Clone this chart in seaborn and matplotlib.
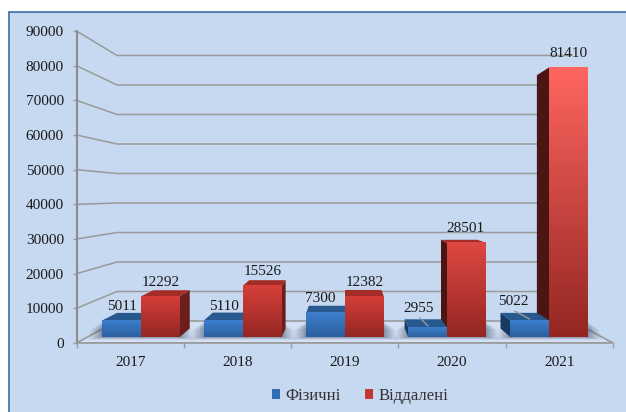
import numpy as np
import pandas as pd
import seaborn as sns
import matplotlib
matplotlib.use('Agg')
import matplotlib.pyplot as plt
from matplotlib.patches import Polygon, Rectangle
from matplotlib.colors import LinearSegmentedColormap

years = ['2017', '2018', '2019', '2020', '2021']
fizychni = [5011, 5110, 7300, 2955, 5022]
viddaleni = [12292, 15526, 12382, 28501, 81410]
series_names = ['Фізичні', 'Віддалені']
y_ticks = [0, 10000, 20000, 30000, 40000, 50000, 60000, 70000, 80000, 90000]

W, H = 626, 412
panel = '#c6d9f1'
grid = '#9a9a9a'

sns.set_theme(style='white')
plt.rcParams['font.family'] = ['Liberation Serif', 'DejaVu Serif']
plt.rcParams['font.size'] = 11

fig = plt.figure(figsize=(W / 100, H / 100), dpi=100, facecolor='white')
fig.patches.append(Rectangle((9 / W, -0.05), 1, (H - 12) / H + 0.05, transform=fig.transFigure,
                             facecolor=panel, edgecolor='#3a6ea5', linewidth=1.2, zorder=-1))

# передня стінка: шкала осі Y
ax_wall = fig.add_axes([76.5 / W, (H - 343) / H, (613 - 76.5) / W, (343 - 31) / H], facecolor='none')
ax_wall.set_xlim(-0.5, 4.5)
ax_wall.set_ylim(0, 90000)
ax_wall.set_xticks(range(5), years)
ax_wall.set_xticks(np.arange(-0.5, 5), minor=True)
ax_wall.set_yticks(y_ticks)
ax_wall.tick_params(axis='x', which='major', length=0, pad=9.5, labelsize=11, colors='#1a1a1a')
ax_wall.tick_params(axis='x', which='minor', length=3.5, width=1, color=grid, bottom=True)
ax_wall.tick_params(axis='y', length=3, width=1, color=grid, pad=6, labelsize=11, labelcolor='#1a1a1a', left=True)
for side in ['top', 'right']:
    ax_wall.spines[side].set_visible(False)
ax_wall.spines['left'].set_color('#8c8c8c')
ax_wall.spines['left'].set_linewidth(1.5)
ax_wall.spines['bottom'].set_color(grid)
ax_wall.spines['bottom'].set_linewidth(1.2)

# задня стінка і підлога
back_l, back_r = -0.1226, 4.118
to_back = lambda v: v * 0.851 + 6345
ax_wall.add_patch(Polygon([[-0.5, 0], [back_l, to_back(0)], [back_r, to_back(0)], [4.5, 0]],
                          facecolor='#d3e0f3', edgecolor=grid, linewidth=1.2, zorder=1))
for v in y_ticks[1:]:
    ax_wall.plot([-0.5, back_l, back_r], [v, to_back(v), to_back(v)], color=grid, lw=1.1, zorder=1)

# стовпчики через seaborn
df = pd.DataFrame({'year': years * 2,
                   'value': fizychni + viddaleni,
                   'series': [series_names[0]] * 5 + [series_names[1]] * 5})
ax = fig.add_axes([0, 0, 1, 1], facecolor='none')
sns.barplot(data=df, x='year', y='value', hue='series', palette=['#2f6db5', '#c0392f'],
            width=0.759, gap=0, saturation=1, linewidth=0, ax=ax, zorder=5)
ax.set_xlim(-141 / 102, (W - 141) / 102)
ax.set_ylim(-(H - 337) / 33.1 * 10000, 337 / 33.1 * 10000)
ax.axis('off')
fig.canvas.draw()

k, vx, vy = 0.06, 347, 217
def back(p):
    return (p[0] + k * (vx - p[0]), p[1] + k * (vy - p[1]))

bars = [b for c in ax.containers for b in c]
n = len(years)
blue_bars, red_bars = bars[:n], bars[n:]

# тіні на підлозі
for i in range(n):
    l = ax.transData.transform((blue_bars[i].get_x(), 0))
    r = ax.transData.transform((red_bars[i].get_x() + red_bars[i].get_width(), 0))
    for grow, a in zip([14, 11, 8, 5, 2], [0.08, 0.10, 0.13, 0.16, 0.20]):
        x0 = l[0] - grow
        x1 = r[0] + grow
        y0 = l[1] - grow * 0.2
        y1 = l[1] + 15 - grow * 0.5
        poly = [(x0, y0), (x1, y0), (x1 - grow * 0.2, y1), (x0 + grow * 0.2, y1)]
        ax_wall.add_patch(Polygon(poly, closed=True, transform=None, facecolor='#3f4d68',
                                  alpha=a, edgecolor='none', zorder=2))

def draw_bar(b, front_top, front_bot, top_col, right_col, left_col, z_side, z_front):
    x0, x1 = b.get_x(), b.get_x() + b.get_width()
    h = b.get_height()
    fl = ax.transData.transform((x0, 0))
    fr = ax.transData.transform((x1, 0))
    tl = ax.transData.transform((x0, h))
    tr = ax.transData.transform((x1, h))
    if tr[0] < vx:
        ax.add_patch(Polygon([fr, tr, back(tr), back(fr)], transform=None, facecolor=right_col,
                             edgecolor='none', zorder=z_side))
    if tl[0] > vx:
        ax.add_patch(Polygon([fl, tl, back(tl), back(fl)], transform=None, facecolor=left_col,
                             edgecolor='none', zorder=z_side))
    if tl[1] < vy:
        ax.add_patch(Polygon([tl, tr, back(tr), back(tl)], transform=None, facecolor=top_col,
                             edgecolor='none', zorder=z_side))
    cmap = LinearSegmentedColormap.from_list('g', [front_bot, front_top])
    ax.imshow(np.linspace(1, 0, 64).reshape(-1, 1), cmap=cmap, vmin=0, vmax=1, aspect='auto',
              extent=(x0, x1, 0, h), zorder=z_front)

max_v = max(viddaleni)
for i in range(n):
    r = red_bars[i]
    t = r.get_height() / max_v
    top = np.array([205, 55, 50]) * (1 - t) + np.array([255, 102, 96]) * t
    draw_bar(r, top / 255, '#942622', '#a52d28', '#6b1f1c', '#4a1512', 6 + i, 6.6 + i)
    b = blue_bars[i]
    draw_bar(b, '#3c7fcd', '#2d5f9f', '#27598f', '#1c3d68', '#173a63', 6.2 + i, 6.4 + i)

# сірі риски, що просвічують крізь верх синіх стовпчиків
for p0, p1 in [((419.7, H - 317.7), (428, H - 326)), ((514.7, H - 311), (529.7, H - 319))]:
    ax.plot([p0[0], p1[0]], [p0[1], p1[1]], color=grid, lw=1, transform=None, zorder=20)

ax.set_xlim(-141 / 102, (W - 141) / 102)
ax.set_ylim(-(H - 337) / 33.1 * 10000, 337 / 33.1 * 10000)

# підписи значень
label_dx = [0, 0, -5, -9, -16, 0, 0, 0, -1, 0]
label_dy = [14, 14, 14, 19, 19, 14, 14, 14, 14, 14]
for i, b in enumerate(bars):
    ax.annotate(f'{int(b.get_height())}', (b.get_x() + b.get_width() / 2, b.get_height()),
                xytext=(label_dx[i] * 0.72, label_dy[i] * 0.72), textcoords='offset points',
                ha='center', va='center', fontsize=11, color='#1a1a1a', zorder=30)

handles, labels = ax.get_legend_handles_labels()
ax.legend(handles, labels, ncol=2, frameon=False, loc='center', bbox_to_anchor=(360 / W, (H - 396) / H),
          handlelength=0.48, handleheight=0.48, handletextpad=0.3, columnspacing=1.5,
          fontsize=12, labelcolor='#333333')

fig.savefig('out.png', dpi=100)
